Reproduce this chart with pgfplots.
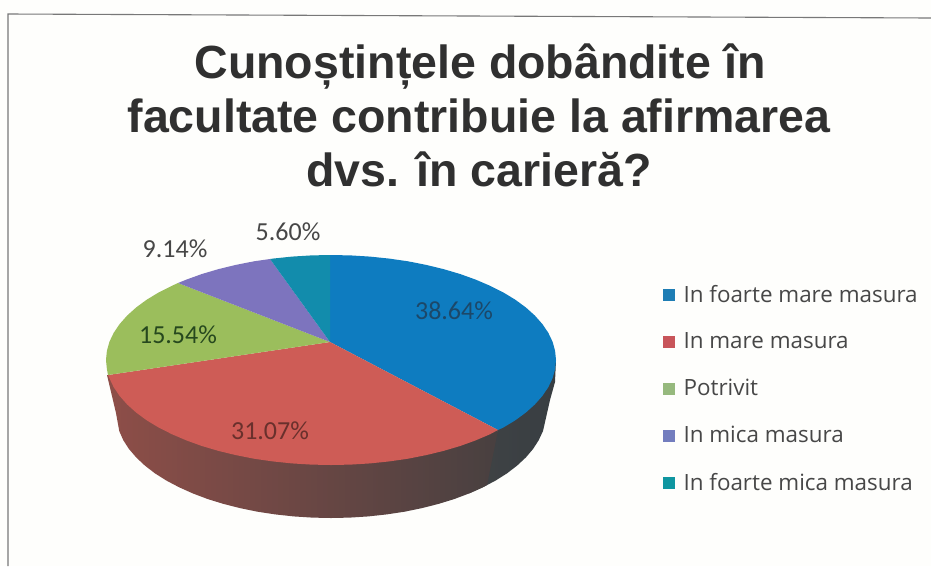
\documentclass[border=0pt]{standalone}
\usepackage{pgfplots}
\pgfplotsset{compat=1.18}
\usepackage{fontspec}
\setmainfont{Liberation Sans}
\newfontfamily\lab{Carlito}
\newfontfamily\leg{Open Sans}
\definecolor{cBlue}{RGB}{14,124,192}
\definecolor{cTeal}{RGB}{18,140,172}
\definecolor{cRed}{RGB}{206,92,86}
\definecolor{cGreen}{RGB}{155,190,92}
\definecolor{cPurple}{RGB}{125,116,190}
\definecolor{lBlue}{RGB}{30,125,180}
\definecolor{lRed}{RGB}{200,85,90}
\definecolor{lGreen}{RGB}{150,185,125}
\definecolor{lPurple}{RGB}{115,125,190}
\definecolor{lTeal}{RGB}{15,150,160}
\definecolor{sA}{RGB}{142,78,72}
\definecolor{sB}{RGB}{112,70,66}
\definecolor{sC}{RGB}{72,64,64}
\definecolor{sD}{RGB}{66,68,70}
\definecolor{sE}{RGB}{56,62,66}
\definecolor{frameC}{RGB}{120,120,120}
\definecolor{titleC}{RGB}{48,48,48}
\definecolor{bgC}{RGB}{254,254,252}
\begin{document}
\begin{tikzpicture}
\begin{axis}[
  at={(0pt,0pt)}, anchor=south west,
  width=931pt, height=566pt, scale only axis,
  xmin=0, xmax=931, ymin=0, ymax=566, y dir=reverse,
  hide axis,
  axis background/.style={fill=bgC},
  legend style={draw=none, fill=none, at={(axis cs:663,283)}, anchor=north west,
    font=\leg\fontsize{22.4}{24}\selectfont, text=black!72, row sep=25pt, inner sep=0pt,
    /tikz/every even column/.append style={column sep=0pt}},
  legend cell align=left,
  legend image code/.code={\fill[#1] (0pt,-5.5pt) rectangle (11pt,5.5pt); \path (18pt,0pt);},
]
% frame
\addplot[forget plot, draw=frameC, line width=1.1pt] coordinates {(8,566)(8,14)(931,18)};
% sides
\addplot[forget plot, draw=none, shade, left color=sD, right color=sE] coordinates {
 (498,430)(469.2,493.4)(483,487.2)(495.7,480.5)(507.1,473.3)(517.2,465.5)(525.9,457.4)(533.1,448.9)(538.7,440.2)(543,431)(550,400)(555,382)(556,360)(450,370)} --cycle;
\addplot[forget plot, draw=none, shade, left color=sA, middle color=sB, right color=sC] coordinates {
 (107,375)(116,413)(119.3,431.2)(123.3,440.2)(128.9,448.9)(136.2,457.4)(144.8,465.5)(154.9,473.3)(166.3,480.5)(179,487.2)(192.8,493.4)(207.6,499)(223.5,503.9)(240,508.1)(257.5,511.7)(275.3,514.4)(293.6,516.4)(312.3,517.6)(331,518)(349.7,517.6)(368.4,516.4)(386.7,514.4)(404.5,511.7)(422,508.1)(438.5,503.9)(454.4,499)(469.2,493.4)(483,487.2)(487,485)(498,430)(331,400)} --cycle;
% top faces
\addplot[forget plot, draw=none, fill=cBlue] coordinates {
 (330,342)(330,255)(350.6,255.4)(370.1,256.6)(389.3,258.6)(408,261.3)(426.2,264.9)(443.5,269.1)(460.1,274)(475.6,279.6)(490.1,285.8)(503.4,292.5)(515.3,299.7)(525.9,307.5)(534.9,315.6)(542.4,324.1)(548.3,332.8)(552.6,341.8)(555.1,350.9)(556,360)(555.1,369.1)(552.6,378.2)(548.3,387.2)(542.4,395.9)(534.9,404.4)(525.9,412.5)(515.3,420.3)(503.4,427.5)(498,430)} --cycle;
\addplot[forget plot, draw=none, fill=cRed] coordinates {
 (330,342)(498,430)(490.1,434.2)(475.6,440.4)(460.1,446)(443.5,450.9)(426.2,455.1)(408,458.7)(389.3,461.4)(370.1,463.4)(350.6,464.6)(331,465)(311.4,464.6)(291.9,463.4)(272.7,461.4)(254,458.7)(235.8,455.1)(218.5,450.9)(201.9,446)(186.4,440.4)(171.9,434.2)(158.6,427.5)(146.7,420.3)(136.1,412.5)(127.1,404.4)(119.6,395.9)(113.7,387.2)(109.4,378.2)(108,375)} --cycle;
\addplot[forget plot, draw=none, fill=cGreen] coordinates {
 (330,342)(108,375)(106.9,369.1)(106,360)(106.9,350.9)(109.4,341.8)(113.7,332.8)(119.6,324.1)(127.1,315.6)(136.1,307.5)(146.7,299.7)(158.6,292.5)(171.9,285.8)(178,283)} --cycle;
\addplot[forget plot, draw=none, fill=cPurple] coordinates {
 (330,342)(178,283)(186.4,279.6)(201.9,274)(218.5,269.1)(235.8,264.9)(254,261.3)(270,259)} --cycle;
\addplot[forget plot, draw=none, fill=cTeal] coordinates {
 (330,342)(270,259)(272.7,258.6)(291.9,256.6)(311.4,255.4)(330,255)} --cycle;
% legend
\addlegendimage{lBlue}\addlegendentry{In foarte mare masura}
\addlegendimage{lRed}\addlegendentry{In mare masura}
\addlegendimage{lGreen}\addlegendentry{Potrivit}
\addlegendimage{lPurple}\addlegendentry{In mica masura}
\addlegendimage{lTeal}\addlegendentry{In foarte mica masura}
% title
\node[font=\bfseries\fontsize{46.5}{46.5}\selectfont, text=titleC, anchor=base] at (axis cs:480,78) {Cunoștințele dobândite în};
\node[font=\bfseries\fontsize{46.5}{46.5}\selectfont, text=titleC, anchor=base] at (axis cs:479,132) {facultate contribuie la afirmarea};
\node[font=\bfseries\fontsize{46.5}{46.5}\selectfont, text=titleC, anchor=base] at (axis cs:479,186) {dvs. în carieră?};
% data labels
\node[font=\lab\fontsize{26}{26}\selectfont, text=black!72] at (axis cs:175,249) {9.14\%};
\node[font=\lab\fontsize{26}{26}\selectfont, text=black!72] at (axis cs:288,232) {5.60\%};
\node[font=\lab\fontsize{26}{26}\selectfont, text={rgb,255:red,28;green,72;blue,105}] at (axis cs:454,311) {38.64\%};
\node[font=\lab\fontsize{26}{26}\selectfont, text={rgb,255:red,38;green,72;blue,30}] at (axis cs:178,335) {15.54\%};
\node[font=\lab\fontsize{26}{26}\selectfont, text={rgb,255:red,105;green,48;blue,44}] at (axis cs:270,431) {31.07\%};
\end{axis}
\end{tikzpicture}
\end{document}
